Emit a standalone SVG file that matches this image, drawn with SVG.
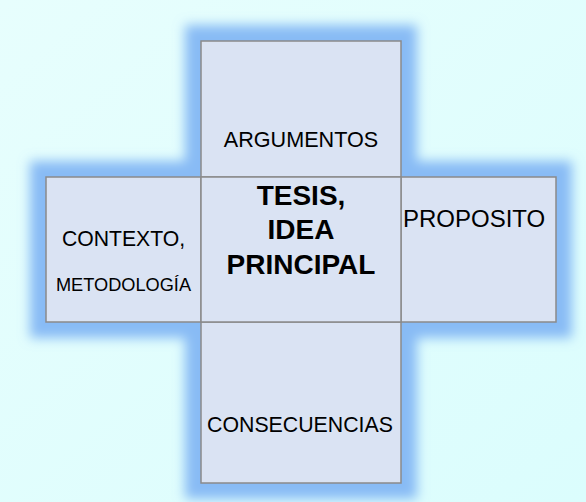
<svg xmlns="http://www.w3.org/2000/svg" width="586" height="502" viewBox="0 0 586 502">
  <defs>
    <linearGradient id="bg" x1="0" y1="0" x2="1" y2="1">
      <stop offset="0" stop-color="#e7fefd"/>
      <stop offset="1" stop-color="#dbfdfd"/>
    </linearGradient>
    <filter id="glow" x="-20%" y="-20%" width="140%" height="140%">
      <feMorphology in="SourceAlpha" operator="dilate" radius="16" result="d"/>
      <feGaussianBlur in="d" stdDeviation="6" result="b"/>
      <feFlood flood-color="#88bbf5"/>
      <feComposite in2="b" operator="in"/>
    </filter>
    <style>
      .box { fill: #dae3f3; stroke: #8a8a8a; stroke-width: 1.5; }
      .t { font-family: "Liberation Sans", Arial, sans-serif; fill: #000; }
      .b { font-weight: bold; font-size: 28px; text-anchor: middle; }
    </style>
  </defs>
  <rect width="586" height="502" fill="url(#bg)"/>
  <g filter="url(#glow)">
    <rect x="201" y="41" width="200" height="442" fill="#000"/>
    <rect x="46" y="177" width="510" height="145" fill="#000"/>
  </g>
  <g id="connectors"/>
  <g id="argumentos">
    <rect class="box" x="201" y="41" width="200" height="136"/>
    <text class="t" x="301" y="147" font-size="21.6" text-anchor="middle">ARGUMENTOS</text>
  </g>
  <g id="contexto">
    <rect class="box" x="46" y="177" width="155" height="145"/>
    <text class="t" x="123.5" y="246" font-size="21.2" text-anchor="middle">CONTEXTO,</text>
    <text class="t" x="123.5" y="291" font-size="18.2" text-anchor="middle">METODOLOGÍA</text>
  </g>
  <g id="proposito">
    <rect class="box" x="401" y="177" width="155" height="145"/>
    <text class="t" x="403" y="227" font-size="24">PROPOSITO</text>
  </g>
  <g id="consecuencias">
    <rect class="box" x="201" y="322" width="200" height="161"/>
    <text class="t" x="300" y="432" font-size="21.3" text-anchor="middle">CONSECUENCIAS</text>
  </g>
  <g id="tesis">
    <rect class="box" x="201" y="177" width="200" height="145"/>
    <text class="t b" x="301" y="205">TESIS,</text>
    <text class="t b" x="301" y="239">IDEA</text>
    <text class="t b" x="301" y="274">PRINCIPAL</text>
  </g>
</svg>
